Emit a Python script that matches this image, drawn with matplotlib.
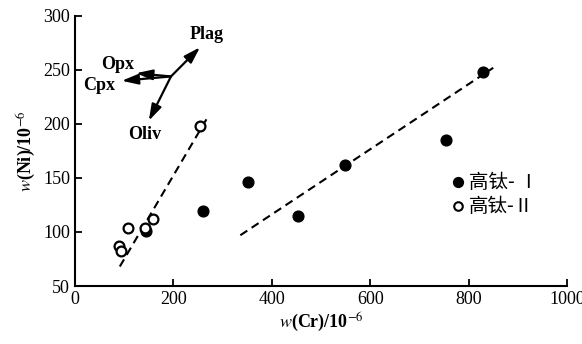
import matplotlib
matplotlib.use('Agg')
import matplotlib.pyplot as plt

plt.rcParams['font.family'] = ['Liberation Serif', 'Noto Sans CJK SC', 'DejaVu Sans']
plt.rcParams['mathtext.fontset'] = 'stix'

# data
cr_hi1 = [261, 351, 453, 549, 754, 829, 144]
ni_hi1 = [119, 146, 115, 162, 185, 248, 101]
cr_hi2 = [89, 93, 108, 142, 159, 254]
ni_hi2 = [87, 82, 104, 104, 112, 198]

fit1_x = [91, 268]
fit1_y = [68, 205]
fit2_x = [336, 850]
fit2_y = [97, 252]

# mineral vectors (origin, tips, label spots)
vec_origin = (195, 244)
vec_names = ['Plag', 'Opx', 'Cpx', 'Oliv']
vec_tips = [(254, 271), (124, 247), (95, 240), (150, 203)]
vec_labels = [(268, 283), (87, 255), (49, 236), (142, 190)]

fig = plt.figure(figsize=(5.82, 3.44), dpi=100)
ax = fig.add_axes([0.1289, 0.1686, 0.8454, 0.785])

ax.plot(fit1_x, fit1_y, color='black', linestyle=(0, (4, 2.5)), linewidth=1.5)
ax.plot(fit2_x, fit2_y, color='black', linestyle=(0, (4, 2.5)), linewidth=1.5)

ax.scatter(cr_hi1, ni_hi1, s=60, color='black', zorder=3)
ax.scatter(cr_hi2, ni_hi2, s=50, facecolor='white', edgecolor='black', linewidth=1.6, zorder=4)

for name, tip, lab in zip(vec_names, vec_tips, vec_labels):
    ax.annotate('', xy=tip, xytext=vec_origin,
                arrowprops=dict(arrowstyle='-|>,head_width=0.22,head_length=0.7', color='black',
                                lw=1.6, mutation_scale=14, shrinkA=0, shrinkB=0))
    ax.text(lab[0], lab[1], name, fontsize=13, fontweight='bold', ha='center', va='center')

# legend drawn by hand
ax.scatter([778], [146], s=50, color='black', clip_on=False)
ax.scatter([778], [124], s=38, facecolor='white', edgecolor='black', linewidth=1.5, clip_on=False)
ax.text(800, 146, '高钛- Ⅰ', fontsize=14, va='center', family=['Noto Sans CJK SC'])
ax.text(800, 124, '高钛-Ⅱ', fontsize=14, va='center', family=['Noto Sans CJK SC'])

ax.set_xlim(0, 1000)
ax.set_ylim(50, 300)
ax.set_xticks([0, 200, 400, 600, 800, 1000])
ax.set_xticklabels(['0', '200', '400', '600', '800', '1000'])
ax.set_yticks([50, 100, 150, 200, 250, 300])
ax.spines['top'].set_visible(False)
ax.spines['right'].set_visible(False)
ax.spines['bottom'].set_linewidth(1.5)
ax.spines['left'].set_linewidth(1.5)
ax.tick_params(direction='in', width=1.3, length=5, labelsize=13)

ax.set_xlabel(r'$w$(Cr)/10$^{-6}$', fontsize=13, fontweight='bold', labelpad=2)
ax.set_ylabel(r'$w$(Ni)/10$^{-6}$', fontsize=13, fontweight='bold', labelpad=4)

fig.savefig('out.png', dpi=100)
